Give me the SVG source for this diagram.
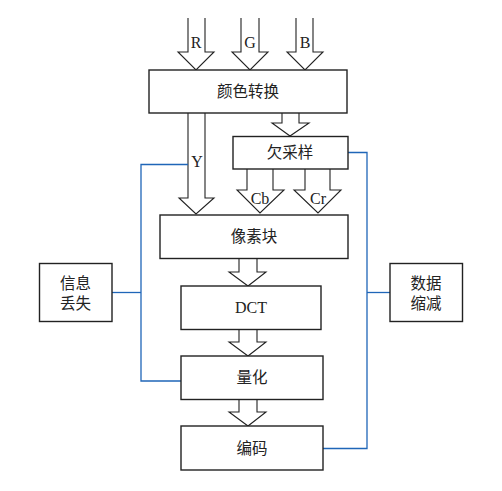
<svg xmlns="http://www.w3.org/2000/svg" width="502" height="491" viewBox="0 0 502 491">
<style>
.box{fill:#fff;stroke:#222;stroke-width:1.4}
.arr{fill:#fff;stroke:#222;stroke-width:1.1;stroke-linejoin:miter}
.blue{fill:none;stroke:#1f66b8;stroke-width:1.3}
.zh{font-family:"Noto Sans CJK SC","Liberation Serif",serif;font-size:15.5px;fill:#222;text-anchor:middle}
.en{font-family:"Liberation Serif",serif;font-size:16px;fill:#222;text-anchor:middle}
</style>
<rect width="502" height="491" fill="#fff"/>
<g id="connectors">
<path class="arr" d="M188,18 V52 H178 L196,70 L214,52 H205 V18"/>
<path class="arr" d="M241,18 V52 H232 L250,70 L268,52 H259 V18"/>
<path class="arr" d="M296,18 V52 H287 L305,70 L323,52 H313 V18"/>
<path class="arr" d="M188,113 V198 H179 L196,214 L214,198 H205 V113"/>
<path class="arr" d="M282,113 V123 H272 L290,136 L309,123 H299 V113"/>
<path class="arr" d="M247,169 V190 H237 L260,213 L284,190 H273 V169"/>
<path class="arr" d="M305,169 V190 H294 L318,213 L341,190 H330 V169"/>
<path class="arr" d="M239,258 V272 H229 L248,286 L266,272 H257 V258"/>
<path class="arr" d="M239,329 V342 H229 L248,356 L266,342 H257 V329"/>
<path class="arr" d="M239,399 V412 H229 L248,426 L266,412 H257 V399"/>
<text class="en" x="196" y="48">R</text>
<text class="en" x="250" y="48">G</text>
<text class="en" x="305" y="48">B</text>
<text class="en" x="197" y="167">Y</text>
<text class="en" x="260" y="204">Cb</text>
<text class="en" x="318" y="204">Cr</text>
<path class="blue" d="M188,164.5 H141 V381 H181"/>
<path class="blue" d="M112,292.5 H141"/>
<path class="blue" d="M348,152.5 H367 V448.5 H323"/>
<path class="blue" d="M367,292.5 H390"/>
</g>
<g id="color"><rect class="box" x="149" y="70" width="198" height="43"/><text class="zh" x="248" y="97">颜色转换</text></g>
<g id="subsample"><rect class="box" x="233" y="136.5" width="115" height="32.5"/><text class="zh" x="290" y="158">欠采样</text></g>
<g id="block"><rect class="box" x="160" y="215" width="188" height="43.5"/><text class="zh" x="254" y="242">像素块</text></g>
<g id="dct"><rect class="box" x="181" y="286" width="140" height="43.5"/><text class="en" x="251" y="313">DCT</text></g>
<g id="quant"><rect class="box" x="181" y="356" width="142" height="43.5"/><text class="zh" x="252" y="383">量化</text></g>
<g id="encode"><rect class="box" x="181" y="426" width="142" height="44"/><text class="zh" x="252" y="453.5">编码</text></g>
<g id="loss"><rect class="box" x="39.5" y="263.5" width="72.5" height="58"/><text class="zh" x="75.5" y="288.5">信息</text><text class="zh" x="75.5" y="308.5">丢失</text></g>
<g id="reduce"><rect class="box" x="390" y="263.5" width="72.5" height="58"/><text class="zh" x="426" y="288.5">数据</text><text class="zh" x="426" y="308.5">缩减</text></g>
</svg>
